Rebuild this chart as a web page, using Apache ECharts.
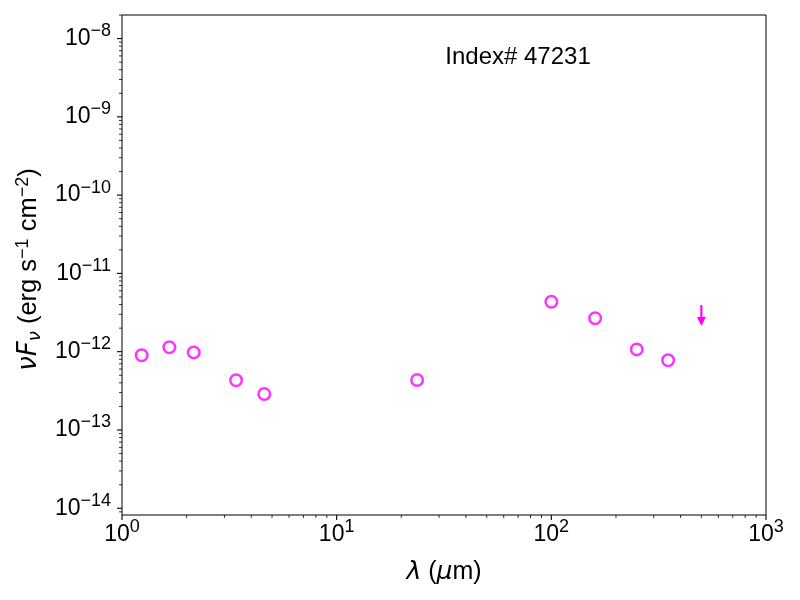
<!DOCTYPE html>
<html><head><meta charset="utf-8">
<script src="https://cdn.jsdelivr.net/npm/echarts@6/dist/echarts.min.js"></script>
<style>html,body{margin:0;padding:0;background:#fff}#c{width:800px;height:600px}</style>
</head><body><div id="c"></div>
<script>
// Photometry (wavelength in micron, nuFnu in erg s^-1 cm^-2)
const wavelengths = [1.235, 1.662, 2.159, 3.4, 4.6, 23.7, 100, 160, 250, 350];
const fluxes = [9.0e-13, 1.14e-12, 9.8e-13, 4.32e-13, 2.88e-13, 4.35e-13, 4.35e-12, 2.67e-12, 1.07e-12, 7.76e-13];
// Upper limits
const limitWavelengths = [500];
const limitFluxes = [3.94e-12];
// Axes
const xRange = [1, 1000];
const yRange = [8.2e-15, 2.0e-8];
const titleText = 'Index# 47231';

const FONT = 'Liberation Sans, Arial, Helvetica, sans-serif';
const MATH = 'DejaVu Sans, sans-serif';
const MAG = '#ff00ff';

function supLabel(v) {
  const e = Math.round(Math.log10(v));
  return '{b|10}{s|' + (e < 0 ? '\u2212' : '') + Math.abs(e) + '}';
}
const richTick = {
  b: { fontSize: 23, fontFamily: FONT, color: '#000', lineHeight: 33 },
  s: { fontSize: 18, fontFamily: FONT, color: '#000', verticalAlign: 'top', lineHeight: 18 }
};

// tick positions (decades and sub-decades)
function logTicks(lo, hi) {
  const out = [];
  for (let k = Math.floor(Math.log10(lo)) - 1; k <= Math.ceil(Math.log10(hi)); k++) {
    for (let m = 1; m <= 9; m++) {
      const v = m * Math.pow(10, k);
      if (v >= lo * 0.9999 && v <= hi * 1.0001) out.push([v, m === 1 ? 1 : 0]);
    }
  }
  return out;
}
const xTickData = logTicks(xRange[0], xRange[1]).map(t => [t[0], yRange[0], t[1]]);
const yTickData = logTicks(yRange[0], yRange[1]).map(t => [xRange[0], t[0], t[1]]);

const chart = echarts.init(document.getElementById('c'));
chart.setOption({
  animation: false,
  grid: { left: 122, right: 34, top: 15, bottom: 85, show: true, borderColor: '#000', borderWidth: 1, backgroundColor: 'transparent' },
  xAxis: {
    type: 'log', logBase: 10, min: xRange[0], max: xRange[1],
    axisLine: { show: false }, axisTick: { show: false }, splitLine: { show: false },
    axisLabel: { formatter: supLabel, rich: richTick, margin: 3 },
    name: '{i|\u03bb} ({i|\u03bc}m)', nameLocation: 'middle', nameGap: 45,
    nameTextStyle: { fontSize: 25, fontFamily: FONT, color: '#000',
      rich: { i: { fontSize: 25, fontFamily: MATH, fontStyle: 'italic', color: '#000' } } }
  },
  yAxis: {
    type: 'log', logBase: 10, min: yRange[0], max: yRange[1],
    axisLine: { show: false }, axisTick: { show: false }, splitLine: { show: false },
    axisLabel: { formatter: supLabel, rich: richTick, margin: 11, showMinLabel: false, showMaxLabel: false },
    name: '{i|\u03bdF}{sub|\u03bd} (erg s{sup|\u22121} cm{sup|\u22122})', nameLocation: 'middle', nameGap: 76,
    nameTextStyle: { fontSize: 25.5, fontFamily: FONT, color: '#000', lineHeight: 30, padding: [0, 9, 0, 0],
      rich: {
        i: { fontSize: 26, fontFamily: MATH, fontStyle: 'italic', color: '#000', lineHeight: 30 },
        sub: { fontSize: 18, fontFamily: MATH, fontStyle: 'italic', color: '#000', verticalAlign: 'bottom', lineHeight: 18 },
        sup: { fontSize: 18, fontFamily: FONT, color: '#000', verticalAlign: 'top', lineHeight: 18 }
      } }
  },
  graphic: [{
    type: 'text', x: 518, y: 57,
    style: { text: titleText, font: '24px ' + FONT, fill: '#000', textAlign: 'center', textVerticalAlign: 'middle' }
  }],
  series: [
    {
      type: 'scatter', data: wavelengths.map((w, i) => [w, fluxes[i]]),
      symbol: 'circle', symbolSize: 11.5,
      itemStyle: { color: 'rgba(0,0,0,0)', borderColor: MAG, borderWidth: 2.5 },
      emphasis: { disabled: true }, z: 5
    },
    {
      type: 'custom', data: limitWavelengths.map((w, i) => [w, limitFluxes[i]]),
      renderItem: function (params, api) {
        const p = api.coord([api.value(0), api.value(1)]);
        return { type: 'group', children: [
          { type: 'line', shape: { x1: p[0], y1: p[1], x2: p[0], y2: p[1] + 13 }, style: { stroke: MAG, lineWidth: 2.2 } },
          { type: 'polygon', shape: { points: [[p[0] - 4.5, p[1] + 12], [p[0] + 4.5, p[1] + 12], [p[0], p[1] + 21]] }, style: { fill: MAG } }
        ] };
      }, z: 5
    },
    {
      type: 'custom', data: xTickData, encode: { x: 0, y: 1 }, silent: true,
      renderItem: function (params, api) {
        const p = api.coord([api.value(0), api.value(1)]);
        const len = api.value(2) ? 5 : 3;
        return { type: 'line', shape: { x1: p[0], y1: p[1], x2: p[0], y2: p[1] + len }, style: { stroke: '#000', lineWidth: api.value(2) ? 1.1 : 0.8 } };
      }
    },
    {
      type: 'custom', data: yTickData, encode: { x: 0, y: 1 }, silent: true,
      renderItem: function (params, api) {
        const p = api.coord([api.value(0), api.value(1)]);
        const len = api.value(2) ? 5 : 3;
        return { type: 'line', shape: { x1: p[0], y1: p[1], x2: p[0] - len, y2: p[1] }, style: { stroke: '#000', lineWidth: api.value(2) ? 1.1 : 0.8 } };
      }
    }
  ]
});
</script></body></html>
